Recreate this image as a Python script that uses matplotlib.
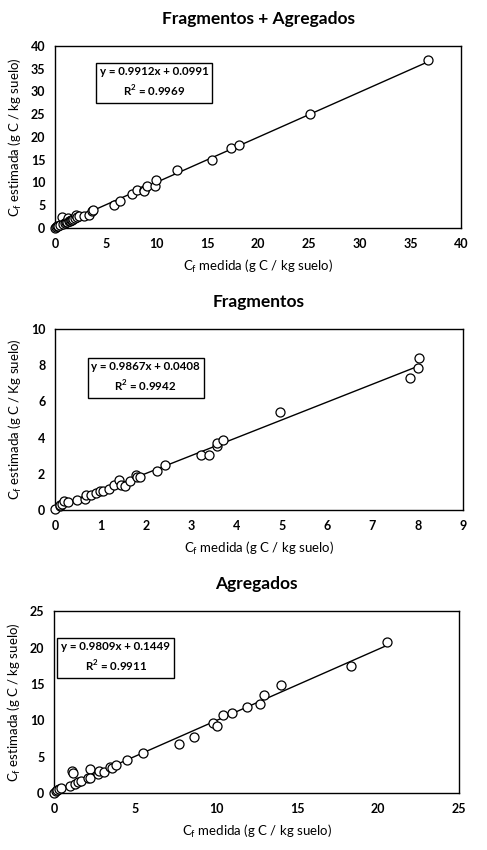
import matplotlib
matplotlib.use("Agg")
import matplotlib.pyplot as plt
import numpy as np

plt.rcParams['font.family'] = ['Lato', 'DejaVu Sans']

# Fragmentos + Agregados
fa_x = [0.0, 0.1, 0.2, 0.3, 0.5, 0.7, 0.8, 1.0, 1.1, 1.2, 1.3, 1.4, 1.5, 1.6, 1.7, 1.8,
        2.0, 2.1, 2.2, 2.4, 2.9, 3.3, 3.6, 3.7, 5.8, 6.4, 7.6, 8.1, 8.8, 8.8, 9.1, 9.8,
        9.9, 12.0, 15.5, 17.3, 18.1, 25.1, 36.7]
fa_y = [0.0, 0.1, 0.3, 0.4, 0.6, 2.4, 0.9, 1.0, 1.3, 1.2, 2.1, 1.5, 1.4, 1.7, 1.8, 1.9,
        2.2, 2.8, 2.3, 2.5, 2.7, 2.9, 3.7, 3.9, 5.0, 5.9, 7.5, 8.3, 8.3, 8.0, 9.2, 9.3,
        10.5, 12.8, 14.9, 17.5, 18.1, 25.0, 36.8]

# Fragmentos
fr_x = [0.0, 0.1, 0.12, 0.15, 0.2, 0.28, 0.48, 0.65, 0.68, 0.8, 0.9, 1.0, 1.05, 1.2,
        1.3, 1.42, 1.45, 1.55, 1.65, 1.78, 1.8, 1.88, 2.24, 2.43, 3.22, 3.39, 3.57,
        3.57, 3.7, 4.96, 7.82, 8.0, 8.03]
fr_y = [0.05, 0.2, 0.25, 0.35, 0.5, 0.45, 0.55, 0.62, 0.84, 0.85, 0.95, 1.05, 1.05,
        1.17, 1.4, 1.63, 1.4, 1.32, 1.6, 1.94, 1.8, 1.85, 2.18, 2.49, 3.03, 3.06, 3.55,
        3.68, 3.86, 5.4, 7.27, 7.86, 8.41]

# Agregados
ag_x = [0.0, 0.1, 0.2, 0.3, 0.4, 0.97, 1.11, 1.19, 1.3, 1.5, 1.65, 2.1, 2.22, 2.24,
        2.7, 2.8, 3.09, 3.45, 3.6, 3.8, 4.5, 5.49, 7.72, 8.64, 9.8, 10.06, 10.4, 11.0,
        11.9, 12.7, 12.98, 14.0, 18.3, 20.56]
ag_y = [0.05, 0.3, 0.4, 0.5, 0.7, 0.96, 3.07, 2.75, 1.3, 1.45, 1.6, 2.0, 3.25, 2.1,
        2.6, 3.0, 2.84, 3.6, 3.5, 3.85, 4.49, 5.54, 6.68, 7.74, 9.6, 9.16, 10.7, 11.0,
        11.8, 12.2, 13.5, 14.8, 17.5, 20.74]

titles = ["Fragmentos + Agregados", "Fragmentos", "Agregados"]
slopes = [0.9912, 0.9867, 0.9809]
intercepts = [0.0991, 0.0408, 0.1449]
r2 = [0.9969, 0.9942, 0.9911]
x_max = [40, 9, 25]
y_max = [40, 10, 25]
x_step = [5, 1, 5]
y_step = [5, 2, 5]
y_units = ["kg", "Kg", "kg"]

data = [(fa_x, fa_y), (fr_x, fr_y), (ag_x, ag_y)]
axes_pos = [[0.113, 0.732, 0.834, 0.214],
            [0.113, 0.400, 0.838, 0.213],
            [0.111, 0.067, 0.832, 0.214]]
box_pos = [(0.244, 0.797), (0.222, 0.732), (0.152, 0.745)]

fig = plt.figure(figsize=(4.87, 8.5), dpi=100)

for i in range(3):
    ax = fig.add_axes(axes_pos[i])
    x, y = data[i]
    ax.plot(x, y, 'o', mfc='white', mec='black', ms=6.5, mew=0.9, zorder=3,
            clip_on=False)
    xl = np.array([min(x), max(x)])
    ax.plot(xl, slopes[i] * xl + intercepts[i], color='black', lw=1.0, zorder=2)

    ax.set_xlim(0, x_max[i])
    ax.set_ylim(0, y_max[i])
    ax.set_xticks(np.arange(0, x_max[i] + 0.01, x_step[i]))
    ax.set_yticks(np.arange(0, y_max[i] + 0.01, y_step[i]))
    ax.tick_params(length=0, pad=7, labelsize=9)
    for lab in ax.get_xticklabels() + ax.get_yticklabels():
        lab.set_fontweight('bold')
    for s in ax.spines.values():
        s.set_linewidth(1.0)

    ax.set_title(titles[i], fontsize=12.5, fontweight='bold', pad=16)
    ax.set_xlabel("C$_\\mathregular{f}$ medida (g C / kg suelo)", fontsize=9.5, labelpad=6)
    ax.set_ylabel("C$_\\mathregular{f}$ estimada (g C / %s suelo)" % y_units[i],
                  fontsize=9.5, labelpad=5)

    txt = "y = %.4fx + %.4f\nR$^\\mathregular{2}$ = %.4f" % (slopes[i], intercepts[i], r2[i])
    ax.text(box_pos[i][0], box_pos[i][1], txt, transform=ax.transAxes,
            ha='center', va='center', fontsize=8.3, fontweight='bold',
            multialignment='center', linespacing=1.5,
            bbox=dict(boxstyle='square,pad=0.32', fc='white', ec='black', lw=1.0))

fig.savefig("out.png", dpi=100)
